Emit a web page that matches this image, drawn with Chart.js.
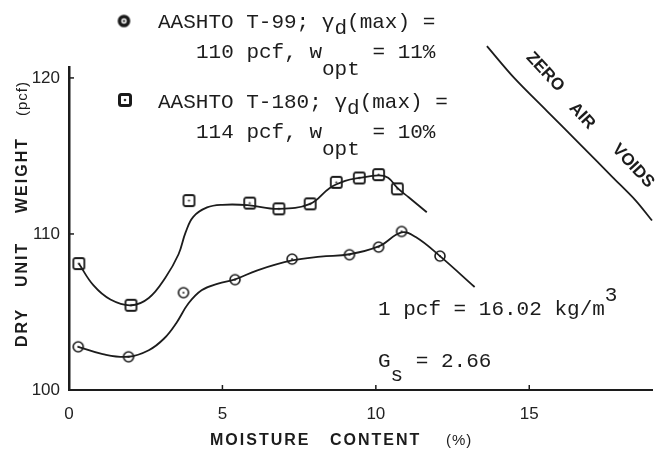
<!DOCTYPE html>
<html><head><meta charset="utf-8">
<script src="https://cdn.jsdelivr.net/npm/chart.js@4.4.1/dist/chart.umd.min.js"></script>
<style>html,body{margin:0;padding:0;background:#fff;}#wrap{width:659px;height:459px;}</style>
</head><body><div id="wrap"><canvas id="c" width="659" height="459"></canvas></div>
<script>
// ---- data ----
const xTickValues = [0, 5, 10, 15];
const yTickValues = [100, 110, 120];
const xTickLabels = ['0', '5', '10', '15'];
const yTickLabels = ['100', '110', '120'];

// AASHTO T-99 measured points (moisture %, dry unit weight pcf)
const t99Moisture = [0.30, 1.94, 3.73, 5.41, 7.27, 9.14, 10.09, 10.84, 12.09];
const t99Density  = [102.77, 102.13, 106.24, 107.07, 108.39, 108.67, 109.16, 110.16, 108.58];
// AASHTO T-180 measured points
const t180Moisture = [0.32, 2.02, 3.91, 5.89, 6.84, 7.86, 8.71, 9.46, 10.09, 10.70];
const t180Density  = [108.10, 105.43, 112.14, 111.98, 111.61, 111.93, 113.31, 113.59, 113.80, 112.89];

// hand-drawn compaction curves (traced)
const t99CurveX = [0.30, 1.10, 1.94, 2.60, 3.10, 3.50, 3.89, 4.32, 4.86, 5.39, 6.14, 7.27, 8.20, 9.14, 10.09, 10.84, 11.30, 12.09, 13.22];
const t99CurveY = [102.77, 102.30, 102.13, 102.55, 103.30, 104.30, 105.54, 106.39, 106.82, 107.07, 107.67, 108.30, 108.55, 108.70, 109.20, 110.10, 109.80, 108.58, 106.60];
const t180CurveX = [0.32, 0.80, 1.35, 2.02, 2.60, 3.14, 3.57, 3.80, 4.05, 4.50, 5.00, 5.82, 6.84, 7.86, 8.50, 9.00, 9.46, 10.09, 10.40, 10.70, 11.07, 11.66];
const t180CurveY = [108.10, 106.70, 105.80, 105.43, 105.90, 107.20, 108.70, 110.10, 111.10, 111.70, 111.87, 111.85, 111.61, 111.93, 112.95, 113.40, 113.59, 113.75, 113.60, 112.95, 112.35, 111.39];
// zero air voids curve (traced)
const zavX = [13.62, 14.50, 15.57, 16.65, 17.72, 18.47, 19.00];
const zavY = [122.04, 120.02, 117.89, 115.76, 113.63, 112.14, 110.86];

const pts = (xs, ys) => xs.map((x, i) => ({x: x, y: ys[i]}));

// ---- marker images ----
function circleMarker(r, lw, dot) {
  const c = document.createElement('canvas'); const s = Math.ceil(2 * r + lw + 2);
  c.width = s; c.height = s; const g = c.getContext('2d');
  g.beginPath(); g.arc(s / 2, s / 2, r, 0, Math.PI * 2); g.fillStyle = '#fff'; g.fill();
  g.lineWidth = lw; g.strokeStyle = '#1a1a1a'; g.stroke();
  g.beginPath(); g.arc(s / 2, s / 2, dot, 0, Math.PI * 2); g.fillStyle = '#333'; g.fill();
  return c;
}
function squareMarker(h, lw, dot) {
  const c = document.createElement('canvas'); const s = Math.ceil(2 * h + lw + 2);
  c.width = s; c.height = s; const g = c.getContext('2d');
  g.beginPath(); g.roundRect(s / 2 - h, s / 2 - h, 2 * h, 2 * h, 2); g.fillStyle = '#fff'; g.fill();
  g.lineWidth = lw; g.strokeStyle = '#1a1a1a'; g.stroke();
  g.beginPath(); g.arc(s / 2, s / 2, dot, 0, Math.PI * 2); g.fillStyle = '#333'; g.fill();
  return c;
}
const circlePt = circleMarker(5, 1.6, 1.1);
const squarePt = squareMarker(5.5, 1.8, 1.1);
const circleLeg = circleMarker(4.5, 3.6, 1.2);
const squareLeg = squareMarker(5.5, 3.0, 1.3);

const INK = '#1c1c1c';
const MONO = '"Liberation Mono", monospace';

function runs(ctx, x, y, parts) {
  let cx = x;
  for (const p of parts) {
    const t = typeof p === 'string' ? p : p.t;
    const dy = typeof p === 'string' ? 0 : (p.dy || 0);
    ctx.fillText(t, cx, y + dy);
    cx += ctx.measureText(t).width;
  }
}

const annot = {
  id: 'annot',
  afterDraw(chart) {
    const ctx = chart.ctx; const xs = chart.scales.x; const ys = chart.scales.y;
    ctx.save();
    // inward tick marks
    ctx.strokeStyle = INK; ctx.lineWidth = 1.5;
    xTickValues.forEach(v => { if (v === 0) return; const px = xs.getPixelForValue(v); ctx.beginPath(); ctx.moveTo(px, ys.bottom); ctx.lineTo(px, ys.bottom - 5); ctx.stroke(); });
    yTickValues.forEach(v => { if (v === 100) return; const py = ys.getPixelForValue(v); ctx.beginPath(); ctx.moveTo(xs.left, py); ctx.lineTo(xs.left + 5, py); ctx.stroke(); });

    ctx.fillStyle = INK; ctx.textBaseline = 'alphabetic'; ctx.textAlign = 'left';
    // x axis title
    ctx.font = 'bold 16px "Liberation Sans", sans-serif';
    ctx.letterSpacing = '2px';
    ctx.fillText('MOISTURE', 210, 445);
    ctx.fillText('CONTENT', 330, 445);
    ctx.letterSpacing = '1px';
    ctx.font = '15px "Liberation Sans", sans-serif';
    ctx.fillText('(%)', 446, 445);
    // y axis title
    ctx.save();
    ctx.translate(27, 0); ctx.rotate(-Math.PI / 2);
    ctx.font = 'bold 16px "Liberation Sans", sans-serif';
    ctx.letterSpacing = '2px';
    ctx.textAlign = 'left';
    ctx.fillText('DRY', -347, 0);
    ctx.fillText('UNIT', -287, 0);
    ctx.fillText('WEIGHT', -213, 0);
    ctx.letterSpacing = '1px';
    ctx.font = '15px "Liberation Sans", sans-serif';
    ctx.fillText('(pcf)', -116, 0);
    ctx.restore();
    ctx.letterSpacing = '0px';

    // legend
    ctx.drawImage(circleLeg, 124 - circleLeg.width / 2, 21 - circleLeg.height / 2);
    ctx.drawImage(squareLeg, 125 - squareLeg.width / 2, 100 - squareLeg.height / 2);
    ctx.font = '21px ' + MONO;
    runs(ctx, 158, 28, ['AASHTO T-99; γ', {t: 'd', dy: 6}, '(max) =']);
    runs(ctx, 196, 58, ['110 pcf, w', {t: 'opt', dy: 17}, ' = 11%']);
    runs(ctx, 158, 108, ['AASHTO T-180; γ', {t: 'd', dy: 6}, '(max) =']);
    runs(ctx, 196, 138, ['114 pcf, w', {t: 'opt', dy: 17}, ' = 10%']);

    // notes
    runs(ctx, 378, 315, ['1 pcf = 16.02 kg/m', {t: '3', dy: -14}]);
    runs(ctx, 378, 367, ['G', {t: 's', dy: 14}, ' = 2.66']);

    // zero air voids label
    ctx.font = 'bold 17px "Liberation Sans", sans-serif';
    ctx.textAlign = 'center'; ctx.textBaseline = 'middle';
    const ang = 47 * Math.PI / 180;
    [['ZERO', 545, 72], ['AIR', 582, 116], ['VOIDS', 633, 166]].forEach(([t, x, y]) => {
      ctx.save(); ctx.translate(x, y); ctx.rotate(ang); ctx.fillText(t, 0, 0); ctx.restore();
    });
    ctx.restore();
  }
};

new Chart(document.getElementById('c'), {
  type: 'scatter',
  data: {
    datasets: [
      {label: 'AASHTO T-180 curve', data: pts(t180CurveX, t180CurveY), showLine: true, borderColor: INK, borderWidth: 1.8, pointRadius: 0, tension: 0.4},
      {label: 'AASHTO T-99 curve', data: pts(t99CurveX, t99CurveY), showLine: true, borderColor: INK, borderWidth: 1.8, pointRadius: 0, tension: 0.4},
      {label: 'Zero air voids', data: pts(zavX, zavY), showLine: true, borderColor: INK, borderWidth: 1.8, pointRadius: 0, tension: 0.3, clip: false},
      {label: 'AASHTO T-180', data: pts(t180Moisture, t180Density), pointStyle: squarePt, pointRadius: 6, showLine: false},
      {label: 'AASHTO T-99', data: pts(t99Moisture, t99Density), pointStyle: circlePt, pointRadius: 6, showLine: false}
    ]
  },
  options: {
    responsive: false, animation: false,
    layout: {padding: {top: 67, right: 1, left: 0, bottom: 0}},
    plugins: {legend: {display: false}, tooltip: {enabled: false}},
    scales: {
      x: {
        type: 'linear', min: 0, max: 19,
        afterBuildTicks: s => { s.ticks = xTickValues.map(v => ({value: v})); },
        afterFit: s => { s.height = 69; },
        grid: {display: false},
        border: {display: true, color: INK, width: 2},
        ticks: {padding: 6, color: '#222', font: {family: '"Liberation Sans"', size: 17},
                callback: (v) => xTickLabels[xTickValues.indexOf(v)]}
      },
      y: {
        type: 'linear', min: 100, max: 120.7,
        afterBuildTicks: s => { s.ticks = yTickValues.map(v => ({value: v})); },
        afterFit: s => { s.width = 69; },
        grid: {display: false},
        border: {display: true, color: INK, width: 2.5},
        ticks: {padding: 1, color: '#222', font: {family: '"Liberation Sans"', size: 17},
                callback: (v) => yTickLabels[yTickValues.indexOf(v)]}
      }
    }
  },
  plugins: [annot]
});
</script>
</body></html>
